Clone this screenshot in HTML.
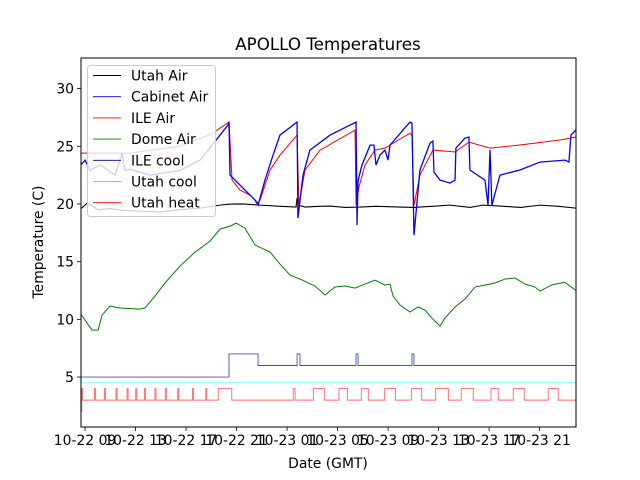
<!DOCTYPE html>
<html><head><meta charset="utf-8"><style>
html,body{margin:0;padding:0;background:#fff;}
svg{display:block;font-family:"DejaVu Sans","Liberation Sans",sans-serif;}
</style></head><body>
<svg id="chart" width="640" height="480" viewBox="0 0 640 480">
<defs><clipPath id="plotclip"><rect x="81" y="58" width="495" height="369"/></clipPath></defs>
<rect x="0" y="0" width="640" height="480" fill="#fff"/>
<text x="328" y="50" text-anchor="middle" font-size="16.7" fill="#000">APOLLO Temperatures</text>
<g id="series" clip-path="url(#plotclip)"></g>
<g id="axes"></g>
<text x="328" y="468" text-anchor="middle" font-size="13.9">Date (GMT)</text>
<text transform="translate(43,242) rotate(-90)" text-anchor="middle" font-size="13.9">Temperature (C)</text>
<g id="legend"></g>
</svg>
<script>
// x values: hours since 10-22 00:00 GMT; y values: temperature (C)
const xTickHours = [9,13,17,21,25,29,33,37,41,45];
const xTickLabels = ["10-22 09","10-22 13","10-22 17","10-22 21","10-23 01","10-23 05","10-23 09","10-23 13","10-23 17","10-23 21"];
const yTickValues = [5,10,15,20,25,30];
const utahAirH = [8.68,9.2,10.0,11.0,11.77,13.0,14.94,16.5,18.11,19.7,20.48,21.5,22.86,24.5,25.71,25.79,25.9,26.42,27.5,28.4,29.6,30.77,32.0,33.94,35.0,36.5,37.90,39.5,40.5,41.86,43.5,45.03,46.5,47.88];
const utahAirT = [19.6,20.1,19.5,19.6,19.47,19.4,19.30,19.5,19.64,19.9,19.99,20.0,19.90,19.8,19.73,20.51,19.9,19.73,19.8,19.82,19.7,19.73,19.8,19.73,19.7,19.8,19.90,19.7,19.9,19.82,19.7,19.90,19.8,19.64];
const cabinetAirH = [8.68,9.0,9.40,10.19,11.38,11.93,12.17,12.56,14.15,16.52,18.11,19.69,20.32,20.40,20.48,21.27,22.46,22.70,23.25,23.89,24.44,25.79,25.86,26.26,26.81,28.40,30.46,30.54,30.62,30.93,31.57,31.88,32.04,32.36,32.75,32.99,33.15,34.73,34.89,35.05,35.52,36.32,36.55,36.63,37.11,37.90,38.30,38.37,39.09,39.40,39.48,40.67,40.91,41.07,41.22,41.86,43.44,45.03,47.01,47.32,47.48,47.88];
const cabinetAirT = [23.4,23.8,22.9,23.4,22.5,24.4,22.9,23.0,22.5,22.9,23.8,25.97,26.84,27.1,22.5,21.64,20.34,19.90,22.07,24.24,25.97,27.10,18.78,22.5,24.67,25.97,27.1,18.17,22.0,23.37,25.1,25.1,23.37,24.24,24.67,23.80,25.1,27.10,27.0,17.30,22.94,25.28,25.45,22.76,22.07,21.81,22.07,24.84,25.71,25.80,22.94,22.07,19.90,24.67,19.90,22.5,22.94,23.63,23.80,23.63,25.97,26.4];
const ileAirH = [8.68,12.56,16.52,18.90,20.40,20.64,21.27,22.06,22.70,22.86,23.65,24.44,25.79,25.94,26.42,27.61,30.38,30.46,30.7,31.17,31.96,32.75,34.73,34.89,35.05,35.52,36.55,38.30,39.40,41.07,43.44,46.61,47.88];
const ileAirT = [24.41,24.41,25.0,26.0,27.1,22.07,21.20,20.77,20.08,20.34,22.94,24.24,25.97,19.90,22.94,24.67,26.40,19.90,21.5,23.37,24.67,24.84,26.14,25.9,19.90,22.5,24.67,24.50,25.36,24.84,25.11,25.54,25.8];
const domeAirH = [8.60,9.0,9.55,10.03,10.35,10.98,11.77,13.35,13.75,14.54,15.33,16.52,17.71,18.90,19.69,20.48,20.96,21.67,22.46,23.65,24.44,25.23,26.02,27.21,28.00,28.79,29.59,30.38,31.17,31.96,32.75,33.15,33.39,33.94,34.73,35.37,35.92,36.47,37.11,37.50,38.30,39.09,39.88,40.67,41.46,42.25,43.05,43.84,44.63,45.03,46.0,47.0,47.88];
const domeAirT = [10.55,9.94,9.07,9.07,10.38,11.15,10.98,10.89,10.98,12.02,13.15,14.62,15.83,16.78,17.82,18.08,18.34,17.90,16.44,15.83,14.79,13.84,13.49,12.89,12.11,12.80,12.89,12.71,13.06,13.40,12.97,13.06,12.02,11.24,10.63,11.07,10.81,10.11,9.42,10.11,11.07,11.76,12.80,12.97,13.15,13.49,13.58,13.06,12.80,12.45,13.0,13.2,12.5];
const ileCoolOn = [20.40,25.79,30.46,34.89];
const ileCoolOff = [22.70,26.02,30.62,35.05];
const ileCoolLevels = [5,7,6];
const utahCoolLevel = 4.5;
const utahHeatOn = [8.74,9.74,10.53,11.45,12.33,13.01,13.70,14.54,15.36,16.34,17.50,18.56,19.55,25.49,27.08,29.11,30.88,32.73,34.84,36.77,38.79,41.15,42.91,45.68];
const utahHeatOff = [8.79,9.82,10.61,11.53,12.41,13.09,13.78,14.62,15.44,16.42,17.58,18.64,20.62,25.63,27.95,29.77,31.43,33.59,35.66,37.77,39.74,41.72,43.78,46.47];
const utahHeatLevels = [2,4,3];
const xMin = 8.68, xMax = 47.88, yMin = 0.67, yMax = 32.65;

const NS = "http://www.w3.org/2000/svg";
const PL = 81, PR = 576, PT = 58, PB = 427;
function xs(h){ return PL + (h - xMin) / (xMax - xMin) * (PR - PL); }
function ys(t){ return PB - (t - yMin) / (yMax - yMin) * (PB - PT); }
function mk(tag, attrs, parent){ const e = document.createElementNS(NS, tag); for (const k in attrs) e.setAttribute(k, attrs[k]); parent.appendChild(e); return e; }
function pathFrom(H, T){ return H.map((h,i)=>(i?"L":"M")+xs(h).toFixed(2)+","+ys(T[i]).toFixed(2)).join(""); }
function stepPath(on, off, levels){
  const base = levels[2], hi = levels[1];
  let d = "M"+xs(xMin)+","+ys(levels[0]);
  for (let i=0;i<on.length;i++){
    const prev = i===0 ? levels[0] : base;
    d += "L"+xs(on[i]).toFixed(2)+","+ys(prev).toFixed(2)+"L"+xs(on[i]).toFixed(2)+","+ys(hi).toFixed(2);
    d += "L"+xs(off[i]).toFixed(2)+","+ys(hi).toFixed(2)+"L"+xs(off[i]).toFixed(2)+","+ys(base).toFixed(2);
  }
  d += "L"+xs(xMax)+","+ys(base);
  return d;
}
const sg = document.getElementById("series");
let p;
p = mk("path", {d: pathFrom(domeAirH, domeAirT), fill:"none", stroke:"#008000", "stroke-width":1}, sg);


p = mk("path", {d: pathFrom(utahAirH, utahAirT), fill:"none", stroke:"#000", "stroke-width":1.1}, sg);


p = mk("path", {d: pathFrom(ileAirH, ileAirT), fill:"none", stroke:"#ff0000", "stroke-width":1}, sg);


p = mk("path", {d: pathFrom(cabinetAirH, cabinetAirT), fill:"none", stroke:"#0000ff", "stroke-width":1.3}, sg);


p = mk("path", {d: stepPath(ileCoolOn, ileCoolOff, ileCoolLevels), fill:"none", stroke:"#000080", "stroke-width":0.9, "stroke-opacity":0.7}, sg);


p = mk("path", {d: "M"+xs(xMin)+","+ys(utahCoolLevel)+"L"+xs(xMax)+","+ys(utahCoolLevel), fill:"none", stroke:"#00ffff", "stroke-width":0.9, "stroke-opacity":0.6}, sg);


p = mk("path", {d: stepPath(utahHeatOn, utahHeatOff, utahHeatLevels), fill:"none", stroke:"#ff0000", "stroke-width":0.9, "stroke-opacity":0.6}, sg);



const ax = document.getElementById("axes");
let r = mk("rect", {x:PL, y:PT, width:PR-PL, height:PB-PT, fill:"none", stroke:"#000", "stroke-width":1}, ax);


xTickHours.forEach((h,i)=>{
  const x = xs(h);
  const t = mk("line", {x1:x, x2:x, y1:PB, y2:PB+4, stroke:"#000", "stroke-width":0.8}, ax);
  
  
  const l = mk("text", {x:x, y:PB+18, "text-anchor":"middle", "font-size":13.9}, ax);
  l.textContent = xTickLabels[i];
  
  
});
yTickValues.forEach(v=>{
  const y = ys(v);
  const t = mk("line", {x1:PL-4, x2:PL, y1:y, y2:y, stroke:"#000", "stroke-width":0.8}, ax);
  
  
  const l = mk("text", {x:PL-7, y:y+5, "text-anchor":"end", "font-size":13.9}, ax);
  l.textContent = String(v);
  
  
});

const lg = document.getElementById("legend");
const legendNames = ["Utah Air","Cabinet Air","ILE Air","Dome Air","ILE cool","Utah cool","Utah heat"];
const legendColors = ["#000","#0000ff","#ff0000","#008000","#000080","#00ffff","#ff0000"];
let bx = mk("rect", {x:87.5, y:65.5, width:128, height:151, rx:3, fill:"#fff", "fill-opacity":0.8, stroke:"#ccc", "stroke-width":1}, lg);


legendNames.forEach((n,i)=>{
  const y = 75.5 + i*21.2;
  const ln = mk("line", {x1:93, x2:121, y1:y, y2:y, stroke:legendColors[i], "stroke-width":0.9}, lg);
  
  
  const tx = mk("text", {x:131, y:y+5, "font-size":13.9}, lg);
  tx.textContent = n;
  
  
});
</script>
</body></html>
